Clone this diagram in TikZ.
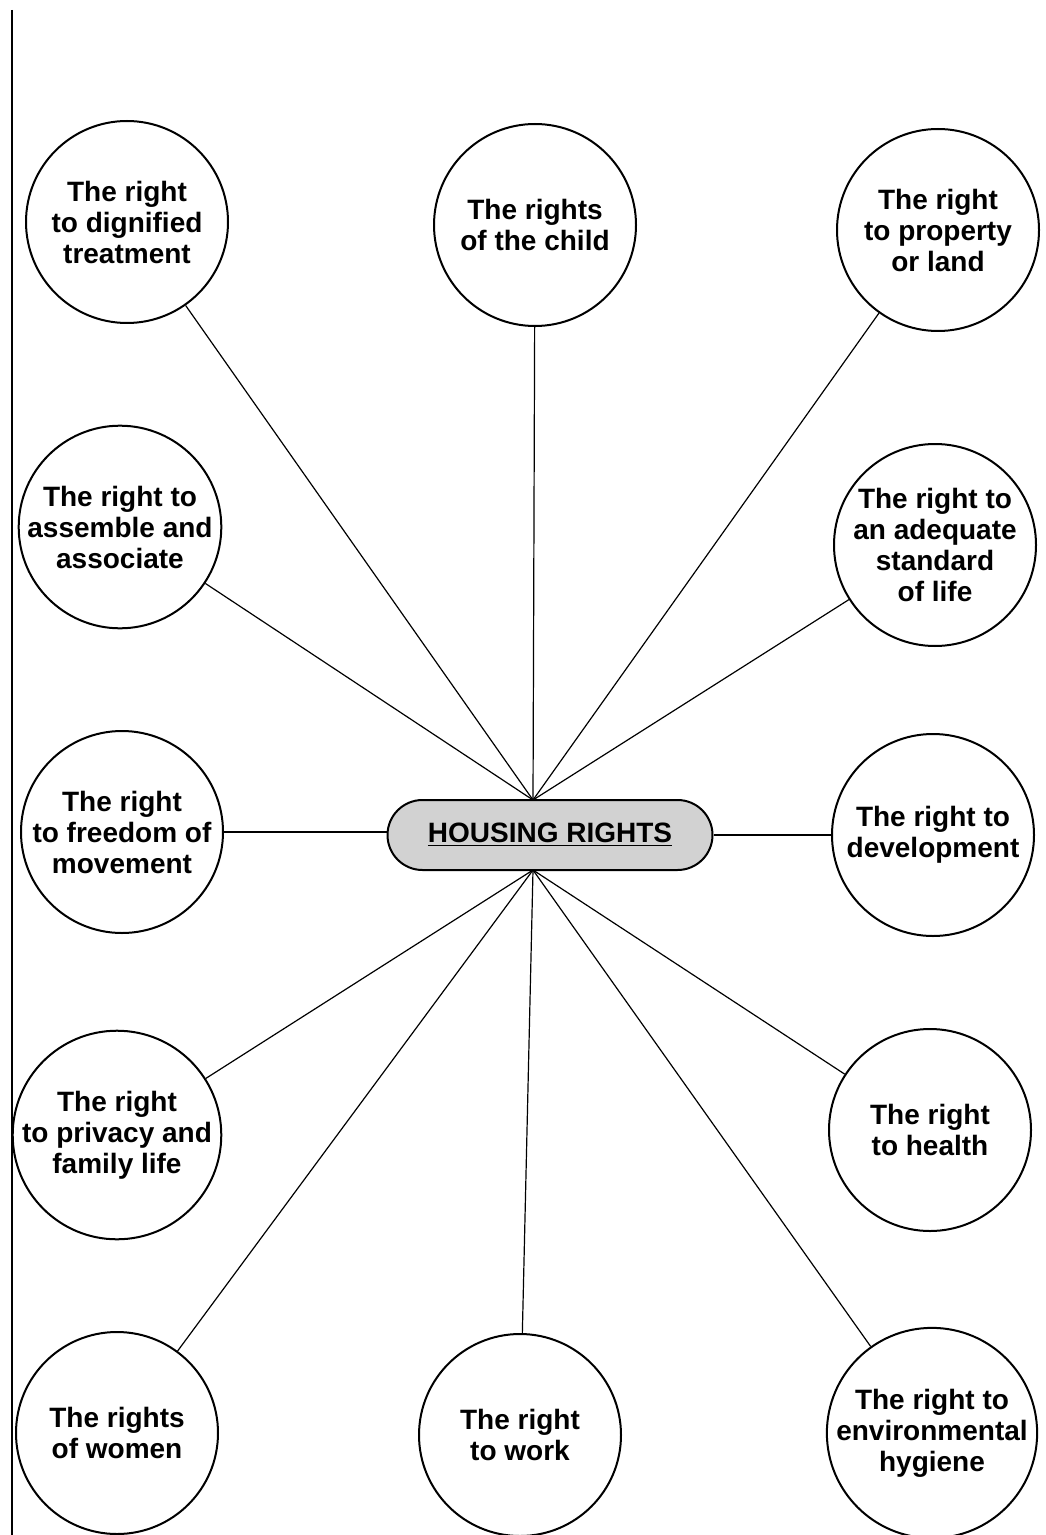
\documentclass[tikz,border=0pt]{standalone}
\usepackage{fontspec}
\setmainfont{Liberation Sans}
\usetikzlibrary{calc}
\tikzset{
    rightball/.style={circle, draw, line width=1pt, minimum size=101pt, inner sep=0pt, align=center, font=\bfseries\fontsize{14}{15.5}\selectfont}, % circles round the hub
    hubbox/.style={draw, line width=1pt, fill=gray!35, rounded corners=17.5pt, minimum width=162.5pt, minimum height=35pt, inner sep=0pt, font=\bfseries\fontsize{14}{16}\selectfont}, % the centre box
    spoke/.style={line width=0.6pt}
}
\begin{document}
\begin{tikzpicture}[x=0.5pt, y=-0.5pt]
    \useasboundingbox (0,0) rectangle (1045,1535);
    \draw[line width=0.8pt] (12,10) -- (12,1535);

    \node[hubbox] (hr) at (550,835) {\underline{HOUSING RIGHTS}};
    \coordinate (hubtop) at (533,800);
    \coordinate (hubbot) at (533,870);

    \node[rightball] (c1) at (127,222) {The right\\to dignified\\treatment};
    \node[rightball] (c2) at (535,225) {The rights\\of the child};
    \node[rightball] (c3) at (938,230) {The right\\to property\\or land};
    \node[rightball] (c4) at (120,527) {The right to\\assemble and\\associate};
    \node[rightball] (c5) at (935,545) {The right to\\an adequate\\standard\\of life};
    \node[rightball] (c6) at (122,832) {The right\\to freedom of\\movement};
    \node[rightball] (c7) at (933,835) {The right to\\development};
    \node[rightball] (c8) at (117,1135) {The right\\to privacy and\\family life};
    \node[rightball] (c9) at (930,1130) {The right\\to health};
    \node[rightball] (c10) at (117,1433) {The rights\\of women};
    \node[rightball] (c11) at (520,1435) {The right\\to work};
    \node[rightball] (c12) at (932,1433) {The right to\\environmental\\hygiene};

    \foreach \n in {c1,c2,c3,c4,c5} {\draw[spoke] (\n) -- (hubtop);}
    \foreach \n in {c8,c9,c10,c11,c12} {\draw[spoke] (\n) -- (hubbot);}
    \draw[spoke] (c6.east) -- (hr.west |- c6.east);
    \draw[spoke] (hr.east |- c7.west) -- (c7.west);
\end{tikzpicture}
\end{document}
